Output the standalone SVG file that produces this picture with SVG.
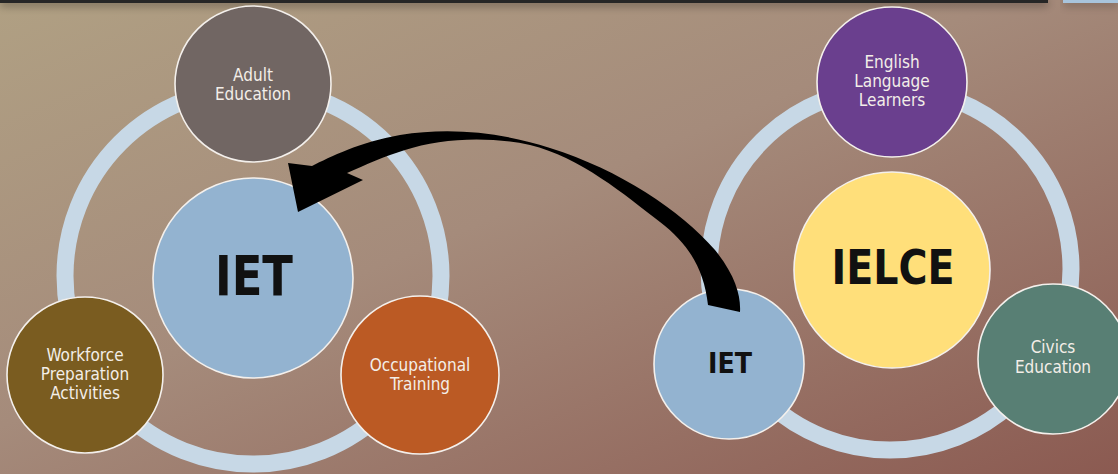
<svg xmlns="http://www.w3.org/2000/svg" width="1118" height="474" viewBox="0 0 1118 474">
  <defs>
    <linearGradient id="bg" x1="0" y1="0" x2="1" y2="1">
      <stop offset="0" stop-color="#b0a083"/>
      <stop offset="0.45" stop-color="#a58b7b"/>
      <stop offset="1" stop-color="#8b5a51"/>
    </linearGradient>
    <filter id="shadow" x="-0.05" y="-2" width="1.1" height="6">
      <feGaussianBlur stdDeviation="4"/>
    </filter>
    <style>
      .ring { fill: none; stroke: #c7d8e6; stroke-width: 17; }
      .node { stroke: #f4f0ec; stroke-width: 1.6; }
      .lbl { font-family: "DejaVu Sans Condensed", "DejaVu Sans", sans-serif; font-stretch: condensed; font-size: 17px; fill: #f3eee8; text-anchor: middle; }
      .big { font-family: "DejaVu Sans Condensed", "DejaVu Sans", sans-serif; font-stretch: condensed; font-weight: bold; fill: #111111; text-anchor: middle; }
    </style>
  </defs>

  <rect x="0" y="0" width="1118" height="474" fill="url(#bg)"/>

  <g id="topbar">
    <rect x="0" y="0" width="1048" height="6" fill="#000" opacity="0.35" filter="url(#shadow)"/>
    <rect x="1063" y="0" width="55" height="6" fill="#000" opacity="0.25" filter="url(#shadow)"/>
    <rect x="0" y="0" width="1048" height="3" fill="#262626"/>
    <rect x="1063" y="0" width="55" height="3" fill="#a8c4dc"/>
  </g>

  <g id="rings">
    <circle class="ring" cx="253" cy="276" r="188"/>
    <circle class="ring" cx="890" cy="269" r="181"/>
  </g>

  <g id="adult-education">
    <circle class="node" cx="253" cy="84" r="78" fill="#716663"/>
    <text class="lbl" x="253" y="81">Adult</text>
    <text class="lbl" x="253" y="100">Education</text>
  </g>

  <g id="iet-main">
    <circle class="node" cx="253" cy="278" r="100" fill="#93b3d0"/>
    <text class="big" x="254" y="295" font-size="56" textLength="78" lengthAdjust="spacingAndGlyphs">IET</text>
  </g>

  <g id="workforce-preparation">
    <circle class="node" cx="85" cy="375" r="78" fill="#7a5c20"/>
    <text class="lbl" x="85" y="361">Workforce</text>
    <text class="lbl" x="85" y="380">Preparation</text>
    <text class="lbl" x="85" y="399">Activities</text>
  </g>

  <g id="occupational-training">
    <circle class="node" cx="420" cy="375" r="79" fill="#bb5a24"/>
    <text class="lbl" x="420" y="371">Occupational</text>
    <text class="lbl" x="420" y="390">Training</text>
  </g>

  <g id="english-language-learners">
    <circle class="node" cx="892" cy="82" r="75" fill="#6a3f8e"/>
    <text class="lbl" x="892" y="68">English</text>
    <text class="lbl" x="892" y="87">Language</text>
    <text class="lbl" x="892" y="106">Learners</text>
  </g>

  <g id="ielce">
    <circle class="node" cx="892" cy="270" r="98" fill="#ffdf7a"/>
    <text class="big" x="893" y="284" font-size="48" textLength="123" lengthAdjust="spacingAndGlyphs">IELCE</text>
  </g>

  <g id="iet-small">
    <circle class="node" cx="729" cy="364" r="75" fill="#93b3d0"/>
    <text class="big" x="730" y="373" font-size="29" textLength="44" lengthAdjust="spacingAndGlyphs">IET</text>
  </g>

  <g id="civics-education">
    <circle class="node" cx="1053" cy="359" r="75" fill="#587f74"/>
    <text class="lbl" x="1053" y="353">Civics</text>
    <text class="lbl" x="1053" y="373">Education</text>
  </g>

  <g id="connectors">
    <path fill="#000" d="M708,305 C704,270 690,245 660,222 C625,195 580,157 530,145 C490,136 440,138 405,150 C385,156 365,165 347,173 L363,180 L298,212 L288,163 L312,166 C330,157 360,142 400,135 C450,127 500,132 550,148 C620,170 680,210 715,250 C735,275 741,295 740,312 Z"/>
  </g>
</svg>
